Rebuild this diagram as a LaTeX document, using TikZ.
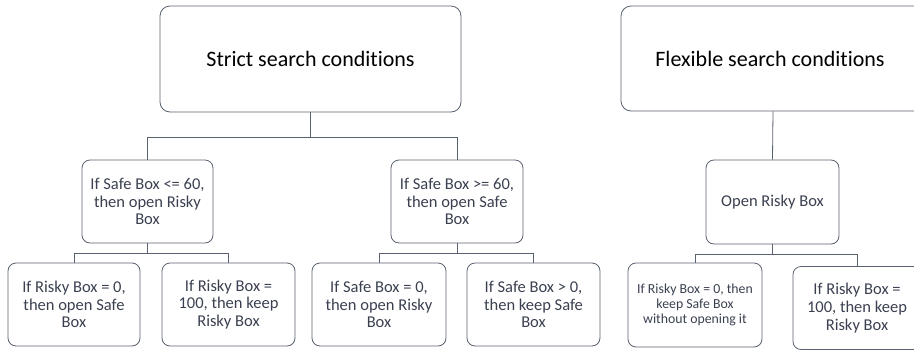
\documentclass[tikz,border=0pt]{standalone}
\usepackage{fontspec}
\setmainfont{Carlito}[Ligatures=CommonOff]
\definecolor{edge}{HTML}{5A6170}
\definecolor{txt}{HTML}{3A4050}
\begin{document}
\begin{tikzpicture}[x=1pt,y=1pt,
  box/.style={draw=edge,line width=0.8pt,rounded corners=8pt,align=center,inner sep=0pt,
    text=txt,font=\fontsize{16.5}{17.8}\selectfont},
  bigbox/.style={box,rounded corners=10pt,text=black,font=\fontsize{22}{26}\selectfont},
  link/.style={draw=edge,line width=0.8pt}]
\useasboundingbox (0,0) rectangle (914,-349);
\clip (0,0) rectangle (914,-349);
% top
\node[bigbox,minimum width=301pt,minimum height=106pt] (strict) at (310.5,-59) {Strict search conditions};
\node[bigbox,minimum width=304pt,minimum height=105pt] (flex) at (773,-58.5) {\hspace*{-6pt}Flexible search conditions};
% middle
\node[box,minimum width=131pt,minimum height=83pt] (m1) at (147.5,-201.5) {If Safe Box <= 60,\\then open Risky\\Box};
\node[box,minimum width=132pt,minimum height=83pt] (m2) at (457,-201.5) {If Safe Box >= 60,\\then open Safe\\Box};
\node[box,minimum width=133pt,minimum height=84pt] (orb) at (772.5,-202) {Open Risky Box};
% bottom
\node[box,minimum width=132pt,minimum height=83pt] (b1) at (74,-304.5) {If Risky Box = 0,\\then open Safe\\Box};
\node[box,minimum width=133pt,minimum height=83pt] (b2) at (228.5,-304.5) {If Risky Box =\\100, then keep\\Risky Box};
\node[box,minimum width=134pt,minimum height=83pt] (b3) at (379,-304.5) {If Safe Box = 0,\\then open Risky\\Box};
\node[box,minimum width=133pt,minimum height=83pt] (b4) at (533.5,-304.5) {If Safe Box > 0,\\then keep Safe\\Box};
\node[box,minimum width=134pt,minimum height=84pt,font=\fontsize{13.8}{15.3}\selectfont] (b5) at (695,-305) {If Risky Box = 0, then\\keep Safe Box\\without opening it};
\node[box,minimum width=128pt,minimum height=83pt] (b6) at (857,-308) {If Risky Box =\\100, then keep\\Risky Box};
% junctions
\coordinate (j0) at (310.5,-137);
\coordinate (j1) at (147.5,-253);
\coordinate (j2) at (457,-253);
\coordinate (j3) at (772.5,-254);
% connectors
\draw[link] (strict.south) -- (j0) -| (m1.north);
\draw[link] (j0) -| (m2.north);
\draw[link] (m1.south) -- (j1) -| (b1.north);
\draw[link] (j1) -| (b2.north);
\draw[link] (m2.south) -- (j2) -| (b3.north);
\draw[link] (j2) -| (b4.north);
\draw[link] (flex.south) -- (orb.north);
\draw[link] (orb.south) -- (j3) -| (b5.north);
\draw[link] (j3) -| (b6.north);
\end{tikzpicture}
\end{document}
